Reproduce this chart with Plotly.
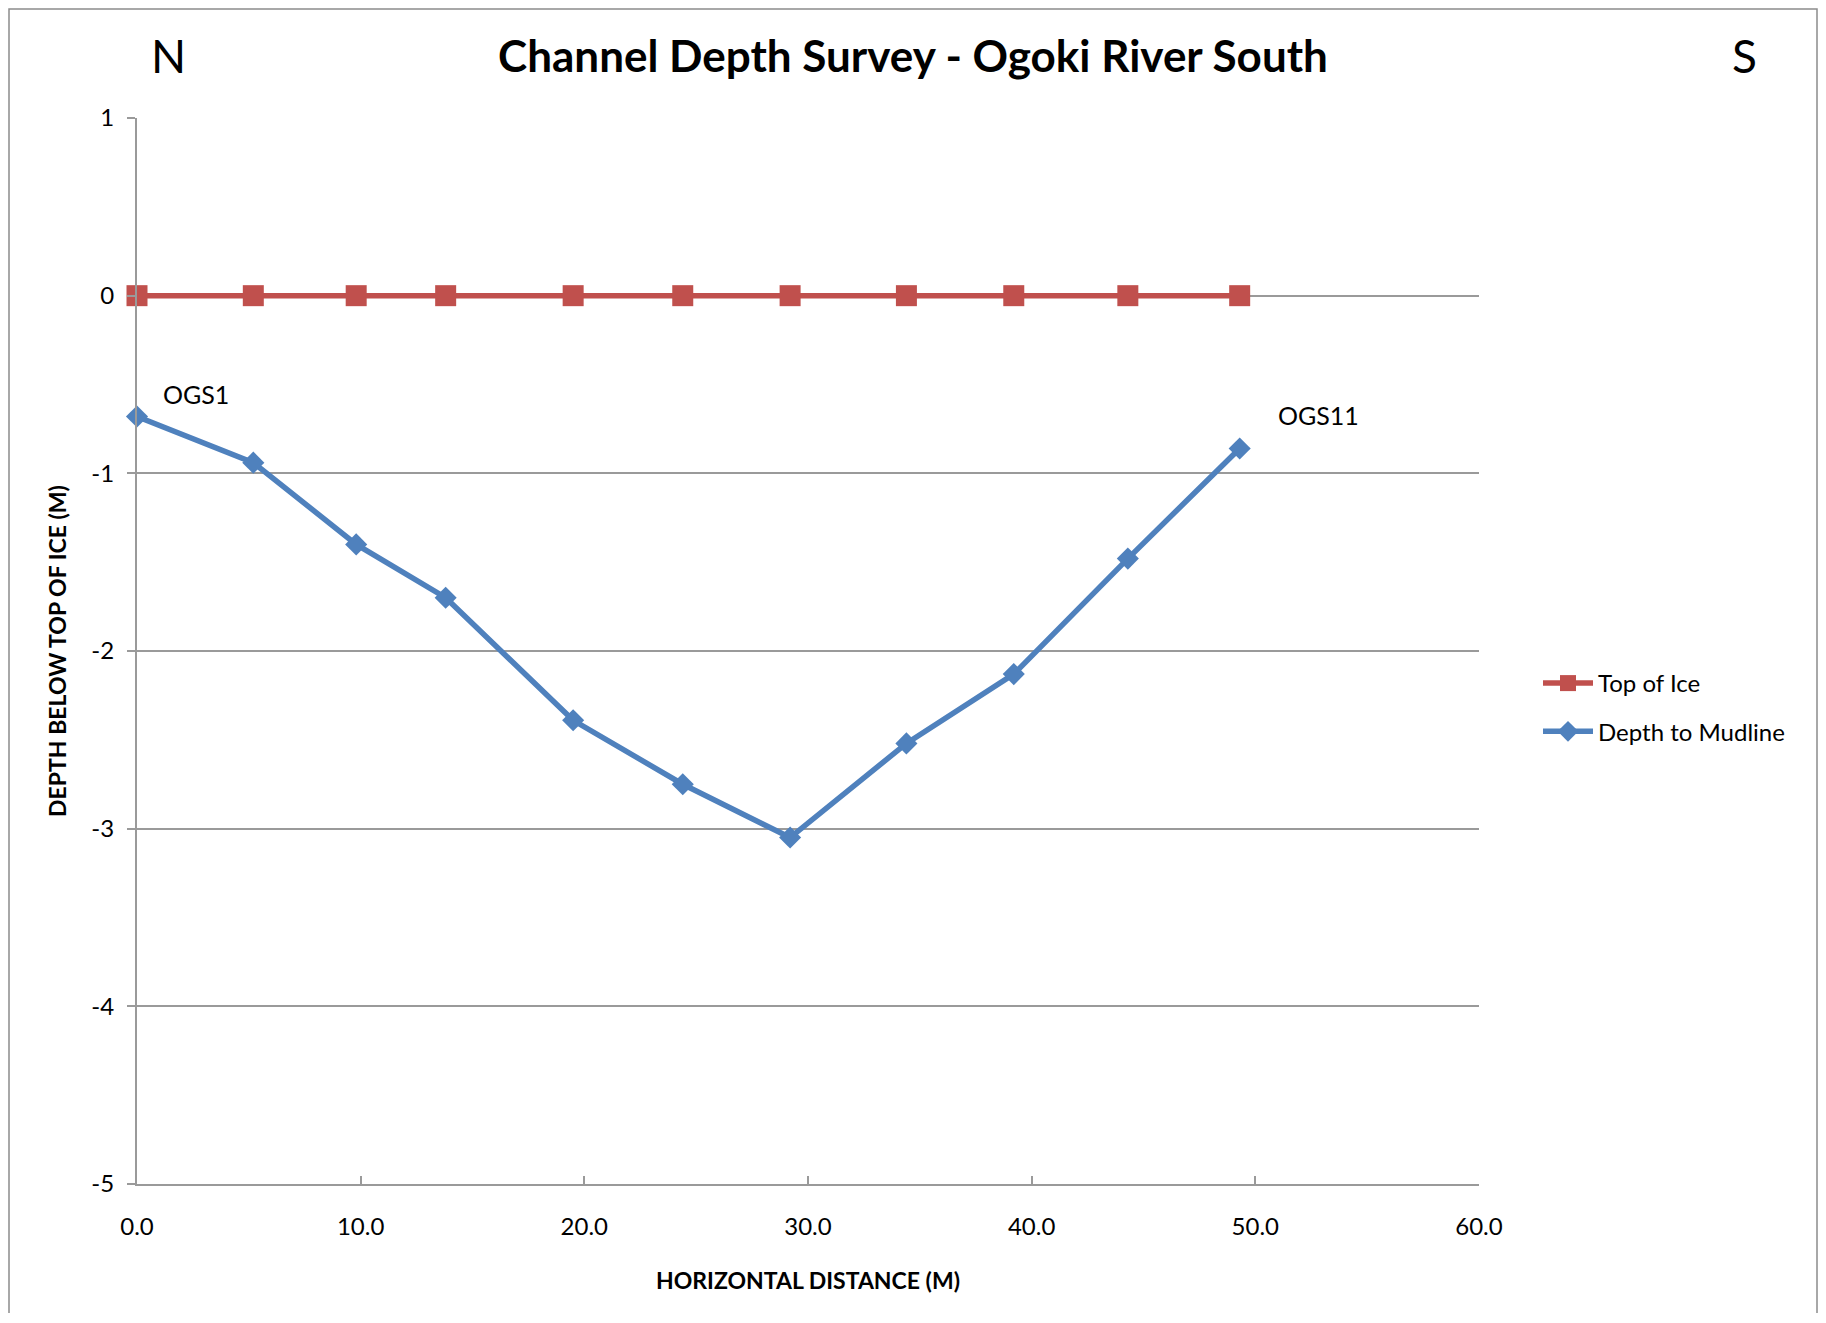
import plotly.graph_objects as go

# Data
distance_m = [0.0, 5.2, 9.8, 13.8, 19.5, 24.4, 29.2, 34.4, 39.2, 44.3, 49.3]
top_of_ice = [0, 0, 0, 0, 0, 0, 0, 0, 0, 0, 0]
depth_to_mudline = [-0.68, -0.94, -1.40, -1.70, -2.39, -2.75, -3.05, -2.52, -2.13, -1.48, -0.86]
station_labels = ["OGS1", "OGS11"]
y_ticks = [1, 0, -1, -2, -3, -4, -5]
y_tick_text = ["1", "0", "-1", "-2", "-3", "-4", "-5"]
x_ticks = [0, 10, 20, 30, 40, 50, 60]
x_tick_text = ["0.0", "10.0", "20.0", "30.0", "40.0", "50.0", "60.0"]

FONT = "Lato, Calibri, Carlito, sans-serif"
RED = "#C0504D"
BLUE = "#4F81BD"
GRID = "#9A9A9A"

# page offset compensation (body margin of the html page)
OFF = 8
W, H = 1810, 1305
L, T = 137 - OFF, 118 - OFF
PW, PH = 1342, 1066


def px_x(p):
    return (p - OFF - L) / PW


def px_y(p):
    return (T + PH - (p - OFF)) / PH


fig = go.Figure()
fig.add_trace(go.Scatter(
    x=distance_m, y=top_of_ice, name="Top of Ice", mode="lines+markers",
    line=dict(color=RED, width=5.5),
    marker=dict(symbol="square", size=21, color=RED),
    cliponaxis=False, legendgroup="a",
))
fig.add_trace(go.Scatter(
    x=distance_m, y=depth_to_mudline, name="Depth to Mudline", mode="lines+markers",
    line=dict(color=BLUE, width=5.5),
    marker=dict(symbol="diamond", size=17, color=BLUE),
    cliponaxis=False, legendgroup="b",
))

# Station labels on the first and last points
fig.add_annotation(x=distance_m[0], y=depth_to_mudline[0], text=station_labels[0],
                   showarrow=False, xanchor="left", yanchor="middle",
                   xshift=24, yshift=22, font=dict(family=FONT, size=25, color="black"))
fig.add_annotation(x=distance_m[-1], y=depth_to_mudline[-1], text=station_labels[1],
                   showarrow=False, xanchor="left", yanchor="middle",
                   xshift=36, yshift=33, font=dict(family=FONT, size=25, color="black"))

# N / S markers
fig.add_annotation(xref="paper", yref="paper", x=px_x(168), y=px_y(56),
                   text="N", showarrow=False, xanchor="center", yanchor="middle",
                   font=dict(family=FONT, size=46, color="black"))
fig.add_annotation(xref="paper", yref="paper", x=px_x(1744), y=px_y(56),
                   text="S", showarrow=False, xanchor="center", yanchor="middle",
                   font=dict(family=FONT, size=46, color="black"))

# Chart border
fig.add_shape(type="rect", xref="paper", yref="paper",
              x0=px_x(OFF + 1), x1=px_x(OFF + W - 1),
              y0=px_y(1360), y1=px_y(OFF + 1),
              line=dict(color="#8C8C8C", width=1.5), fillcolor="rgba(0,0,0,0)", layer="below")

fig.update_layout(
    width=W, height=H,
    margin=dict(l=L, r=W - L - PW, t=T, b=H - T - PH),
    paper_bgcolor="white", plot_bgcolor="white",
    title=dict(text="<b>Channel Depth Survey - Ogoki River South</b>",
               x=(913 - OFF) / W, xref="container", xanchor="center",
               y=1 - (57 - OFF) / H, yref="container", yanchor="middle",
               font=dict(family=FONT, size=44, color="black")),
    font=dict(family=FONT, color="black"),
    legend=dict(x=px_x(1538), y=px_y(661), xanchor="left", yanchor="top",
                font=dict(family=FONT, size=24, color="black"),
                bgcolor="rgba(0,0,0,0)", traceorder="grouped", tracegroupgap=14,
                itemwidth=50),
    showlegend=True,
)
fig.update_xaxes(
    range=[0, 60], tickvals=x_ticks, ticktext=x_tick_text,
    showgrid=False, zeroline=False,
    showline=True, linecolor=GRID, linewidth=2,
    ticks="inside", ticklen=8, tickcolor=GRID, tickwidth=2,
    tickfont=dict(family=FONT, size=24, color="black"),
    ticklabelstandoff=20,
    title=dict(text="<b>HORIZONTAL DISTANCE (M)</b>", standoff=34,
               font=dict(family=FONT, size=23, color="black")),
)
fig.update_yaxes(
    range=[-5, 1], tickvals=y_ticks, ticktext=y_tick_text,
    showgrid=True, gridcolor=GRID, gridwidth=2,
    zeroline=False,
    showline=True, linecolor=GRID, linewidth=2,
    ticks="outside", ticklen=8, tickcolor=GRID, tickwidth=2,
    tickfont=dict(family=FONT, size=24, color="black"),
    ticklabelstandoff=8,
    title=dict(text="<b>DEPTH BELOW TOP OF ICE (M)</b>", standoff=18,
               font=dict(family=FONT, size=23, color="black")),
)

fig.write_html("out.html")
